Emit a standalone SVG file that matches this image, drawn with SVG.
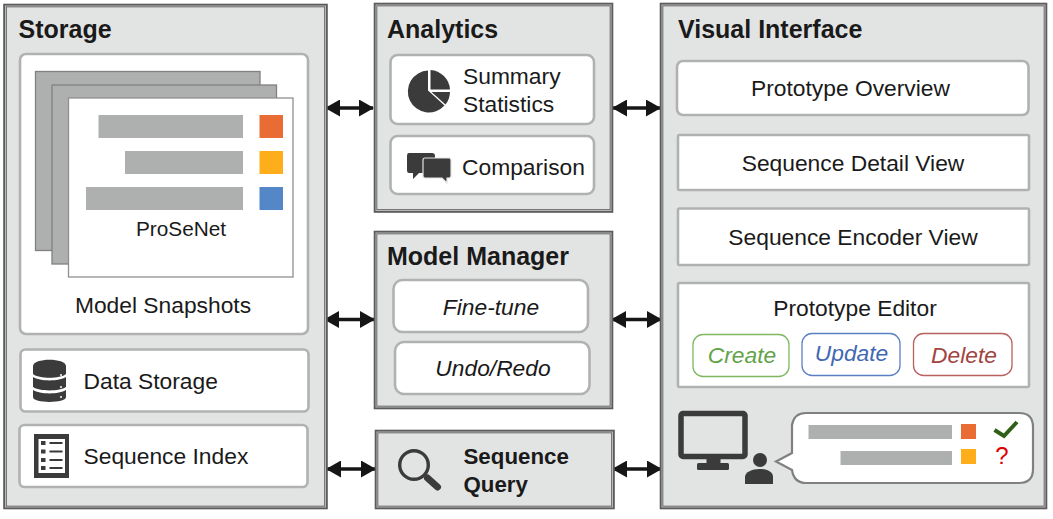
<svg xmlns="http://www.w3.org/2000/svg" width="1053" height="519" viewBox="0 0 1053 519">
<style>
text{font-family:"Liberation Sans",Arial,sans-serif;fill:#1a1a1a;font-size:22.8px}
.title{font-weight:700;font-size:25px}
.b{font-weight:700;font-size:22.3px}
.i{font-style:italic}
.m{text-anchor:middle}
.panel{fill:#e2e4e3;stroke:#5c5c5c;stroke-width:3.6}
.inner{fill:none;stroke:#b8b8b8;stroke-width:1}
.card{fill:#fff;stroke:#b0b2b1;stroke-width:2.6}
.bar{fill:#aeb0af}
.sheet{fill:#aeb0af;stroke:#808080;stroke-width:1.3}
.ic{fill:#3b3b3b}
.conn{stroke:#161616;stroke-width:3.4;marker-start:url(#ah);marker-end:url(#ah);fill:none}
</style>
<defs>
<marker id="ah" viewBox="0 0 15 17" refX="14" refY="8.500" markerUnits="userSpaceOnUse" markerWidth="15" markerHeight="17" orient="auto-start-reverse"><path d="M0 0L15 8.500L0 17Z" fill="#161616"/></marker>
</defs>
<rect width="1053" height="519" fill="#fff"/>
<g id="connectors">
<path class="conn" d="M326 108H373"/>
<path class="conn" d="M613 108H660"/>
<path class="conn" d="M325 319.500H374"/>
<path class="conn" d="M612 319.500H661"/>
<path class="conn" d="M327 469H375"/>
<path class="conn" d="M613 469H661"/>
</g>
<g id="storage">
<rect class="panel" x="5" y="5.500" width="321" height="502"/>
<rect class="inner" x="5.500" y="6" width="320" height="501"/>
<text class="title" x="18.500" y="38">Storage</text>
</g>
<g id="model-snapshots">
<rect class="card" x="20" y="54" width="288" height="280" rx="6"/>
<rect class="sheet" x="35.500" y="71.500" width="224.500" height="179"/>
<rect class="sheet" x="52" y="85" width="224.500" height="179"/>
<rect x="68.500" y="98" width="224.500" height="179" fill="#fff" stroke="#909090" stroke-width="1.300"/>
<rect class="bar" x="98.500" y="115" width="144.500" height="23"/>
<rect class="bar" x="125" y="151" width="118" height="23"/>
<rect class="bar" x="86" y="187" width="157" height="23"/>
<rect x="259.500" y="115" width="23.500" height="23" fill="#e96c35"/>
<rect x="259.500" y="151" width="23.500" height="23" fill="#feae1a"/>
<rect x="259.500" y="187" width="23.500" height="23" fill="#5487c8"/>
<text class="m" x="181" y="236" style="font-size:20.800px">ProSeNet</text>
<text class="m" x="163" y="313">Model Snapshots</text>
</g>
<g id="data-storage">
<rect class="card" x="20.500" y="349.500" width="288" height="62" rx="5"/>
<path class="ic" d="M33 366C33 357.500 66 357.500 66 366V374C60 379 39 379 33 374Z"/>
<path class="ic" d="M33 377C40 381.500 59 381.500 66 377V387C60 391.500 39 391.500 33 387Z"/>
<path class="ic" d="M33 390C40 394.500 59 394.500 66 390V397C66 403.500 33 403.500 33 397Z"/>
<circle cx="61" cy="375" r="1" fill="#fff"/><circle cx="61" cy="387" r="1" fill="#fff"/><circle cx="61" cy="397" r="1" fill="#fff"/>
<text x="83.500" y="389">Data Storage</text>
</g>
<g id="sequence-index">
<rect class="card" x="19.500" y="425" width="288" height="62" rx="5"/>
<rect class="ic" x="34" y="434" width="35" height="44"/>
<rect x="38.500" y="439" width="26.500" height="34" fill="#fff"/>
<g class="ic">
<rect x="41" y="441" width="4.500" height="4"/><rect x="49.500" y="442" width="13" height="2"/>
<rect x="41" y="449.500" width="4.500" height="4"/><rect x="49.500" y="450.500" width="13" height="2"/>
<rect x="41" y="458" width="4.500" height="4"/><rect x="49.500" y="459" width="13" height="2"/>
<rect x="41" y="466" width="4.500" height="4"/><rect x="49.500" y="467" width="13" height="2"/>
</g>
<text x="83.500" y="464">Sequence Index</text>
</g>
<g id="analytics">
<rect class="panel" x="375.500" y="4.500" width="236" height="206.500"/>
<rect class="inner" x="376" y="5" width="235" height="205.500"/>
<text class="title" x="387" y="38">Analytics</text>
</g>
<g id="summary-statistics">
<rect class="card" x="390.500" y="55" width="203.500" height="69" rx="7"/>
<path class="ic" d="M428 70.500A21 21 0 1 0 444.500 105.500L428 90.500Z"/>
<path class="ic" d="M430.500 70A21 21 0 0 1 450 89.500H430.500Z"/>
<path class="ic" d="M431.500 92H450A21 21 0 0 1 445.500 104.500Z"/>
<text x="463" y="84">Summary</text>
<text x="463" y="112">Statistics</text>
</g>
<g id="comparison">
<rect class="card" x="390.500" y="136" width="203.500" height="58" rx="7"/>
<path class="ic" d="M409 153H432Q435 153 435 156V170Q435 173 432 173H419L413 179V173H409Q407 173 407 170V156Q407 153 409 153Z"/>
<path class="ic" d="M425 158H449Q451 158 451 160V176Q451 178 449 178H447V183L442 178H425Q423 178 423 176V160Q423 158 425 158Z" stroke="#e2e4e3" stroke-width="1.200"/>
<text x="462" y="175">Comparison</text>
</g>
<g id="model-manager">
<rect class="panel" x="375.500" y="232.500" width="236" height="175"/>
<rect class="inner" x="376" y="233" width="235" height="174"/>
<text class="title" x="387" y="265">Model Manager</text>
</g>
<g id="fine-tune">
<rect class="card" x="393.500" y="280" width="194.500" height="52" rx="9"/>
<text class="i m" x="491" y="315">Fine-tune</text>
</g>
<g id="undo-redo">
<rect class="card" x="395" y="342" width="194.500" height="52" rx="9"/>
<text class="i m" x="493" y="376">Undo/Redo</text>
</g>
<g id="sequence-query">
<rect class="panel" x="376.500" y="431.500" width="236.500" height="76"/>
<rect class="inner" x="377" y="432" width="235.500" height="75"/>
<circle cx="414" cy="465" r="14.300" fill="none" stroke="#3b3b3b" stroke-width="3.400"/>
<path d="M427.500 478L437.500 487" stroke="#3b3b3b" stroke-width="7" stroke-linecap="round" fill="none"/>
<text class="b" x="463.500" y="464">Sequence</text>
<text class="b" x="463.500" y="492">Query</text>
</g>
<g id="visual-interface">
<rect class="panel" x="661.500" y="4.500" width="384" height="503"/>
<rect class="inner" x="662" y="5" width="383" height="502"/>
<text class="title" x="678" y="38">Visual Interface</text>
</g>
<g id="prototype-overview">
<rect class="card" x="677" y="61" width="351.500" height="54" rx="6"/>
<text class="m" x="850.500" y="96">Prototype Overview</text>
</g>
<g id="sequence-detail-view">
<rect class="card" x="678" y="135" width="351" height="55" rx="1.500"/>
<text class="m" x="853" y="171">Sequence Detail View</text>
</g>
<g id="sequence-encoder-view">
<rect class="card" x="678" y="208.500" width="351" height="56.500" rx="1.500"/>
<text class="m" x="853" y="245">Sequence Encoder View</text>
</g>
<g id="prototype-editor">
<rect class="card" x="678" y="283" width="351" height="104" rx="1.500"/>
<text class="m" x="855" y="316">Prototype Editor</text>
</g>
<g id="create">
<rect x="693" y="334.500" width="96" height="42" rx="10" fill="#fff" stroke="#7fb761" stroke-width="1.300"/>
<text class="i m" x="742" y="363" style="fill:#62a34a">Create</text>
</g>
<g id="update">
<rect x="802" y="333.500" width="98" height="42" rx="10" fill="#fff" stroke="#5a80c4" stroke-width="1.300"/>
<text class="i m" x="851.500" y="361" style="fill:#4268b3">Update</text>
</g>
<g id="delete">
<rect x="913.500" y="333.500" width="98.500" height="42" rx="10" fill="#fff" stroke="#b8615e" stroke-width="1.300"/>
<text class="i m" x="964" y="363" style="fill:#a24441">Delete</text>
</g>
<g id="user-feedback">
<rect x="681" y="413.500" width="64" height="43" rx="2" fill="none" stroke="#3b3b3b" stroke-width="5.500"/>
<rect class="ic" x="706.500" y="458" width="14" height="6"/>
<rect class="ic" x="697" y="463" width="32" height="7" rx="1.500"/>
<circle class="ic" cx="760" cy="460" r="7"/>
<path class="ic" d="M745 484V477C745 472 752 469 759.500 469C767 469 773 472 773 477V484Z"/>
<path d="M806 413H1019Q1033 413 1033 427V469Q1033 483 1019 483H806Q794 483 792 470L776 461.500L792 453V425Q794 413 806 413Z" fill="#fff" stroke="#808080" stroke-width="2.200"/>
<rect class="bar" x="808.500" y="425" width="143.500" height="14"/>
<rect class="bar" x="840.500" y="451" width="111.500" height="14"/>
<rect x="961" y="424" width="15" height="15" fill="#e96c35"/>
<rect x="961" y="449" width="15" height="15" fill="#feae1a"/>
<path d="M994.500 430L1004 436L1017 422" fill="none" stroke="#2f5f16" stroke-width="4"/>
<text class="m" x="1002" y="464" style="fill:#e00000;font-size:24px">?</text>
</g>
</svg>
